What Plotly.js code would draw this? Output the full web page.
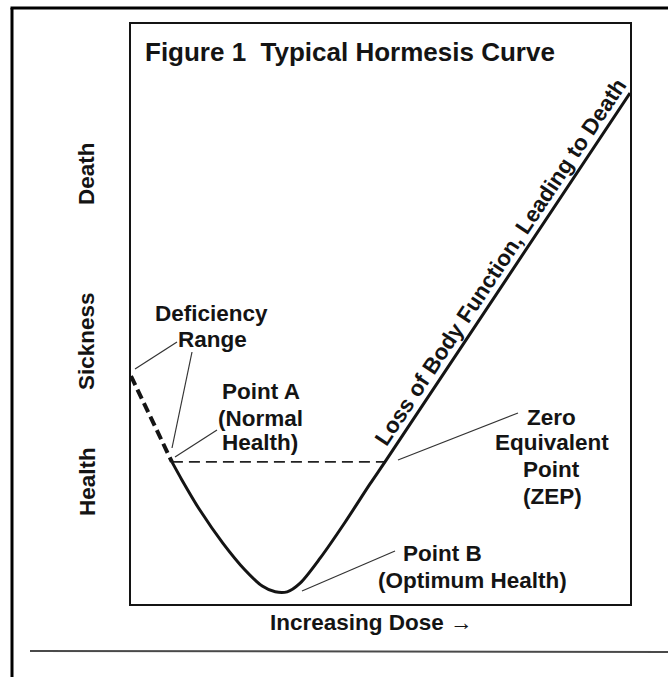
<!DOCTYPE html>
<html>
<head>
<meta charset="utf-8">
<script src="https://cdn.plot.ly/plotly-3.0.1.min.js"></script>
<style>html,body{margin:0;padding:0;background:#fff;}#chart{width:668px;height:677px;}</style>
</head>
<body>
<div id="chart"></div>
<script>
// ---- data (conceptual dose-response values, 0-100 scales) ----
const deficiencyDose = [0, 8.2];
const deficiencyResponse = [39.3, 24.5];
const curveDose = [8.2, 10.2, 13.8, 18.4, 22.8, 26.3, 28.9, 31.3, 33.9, 37.9, 42.9, 47.9, 50.9, 100];
const curveResponse = [24.5, 21.4, 16.2, 10.5, 5.9, 3.1, 2.1, 2.1, 3.6, 7.9, 14.1, 20.7, 24.5, 88.1];
const zepDose = [8.2, 50.9];
const zepResponse = [24.5, 24.5];
const stateLabels = ['Death', 'Sickness', 'Health'];
const titleText = 'Figure 1  Typical Hormesis Curve';
const xTitleText = 'Increasing Dose \u2192';
const curveLabel = 'Loss of Body Function, Leading to Death';

// ---- geometry helpers (pixel -> paper / data) ----
const L = 131, R = 630, T = 24, B = 604, W = 668, H = 677;
const px = v => (v - L) / (R - L);            // paper x
const py = v => (B - v) / (B - T);            // paper y
const dx = v => (v - L) / (R - L) * 100;      // data x
const dy = v => (B - v) / (B - T) * 100;      // data y

const FONT = 'Liberation Sans, Arial, Helvetica, sans-serif';
const ink = '#141414';

const traces = [
  {x: deficiencyDose, y: deficiencyResponse, mode: 'lines', type: 'scatter',
   line: {color: ink, width: 4, dash: '10px,5px'}, hoverinfo: 'skip'},
  {x: zepDose, y: zepResponse, mode: 'lines', type: 'scatter',
   line: {color: '#222', width: 1.6, dash: '11px,6px'}, hoverinfo: 'skip'},
  {x: curveDose, y: curveResponse, mode: 'lines', type: 'scatter',
   line: {color: ink, width: 3, shape: 'spline', smoothing: 0.8}, hoverinfo: 'skip'}
];

function lbl(text, xpx, ypx, size, opts) {
  return Object.assign({
    text: text, xref: 'paper', yref: 'paper', x: px(xpx), y: py(ypx),
    xanchor: 'center', yanchor: 'middle', showarrow: false,
    font: {family: FONT, size: size, weight: 'bold', color: ink}
  }, opts || {});
}

const annotations = [
  lbl(titleText, 143, 52, 26, {xanchor: 'left'}),
  lbl(stateLabels[0], 87, 174, 22.5, {textangle: -90}),
  lbl(stateLabels[1], 87, 341, 22.5, {textangle: -90}),
  lbl(stateLabels[2], 87, 482, 22.5, {textangle: -90}),
  lbl(xTitleText, 371, 623, 22.5),
  lbl('Deficiency', 211, 313, 22.5),
  lbl('Range', 212, 339, 22.5),
  lbl('Point A', 261, 392, 22.5),
  lbl('(Normal', 260, 418, 22.5),
  lbl('Health)', 260, 443, 22.5),
  lbl('Zero', 551, 417, 22.5),
  lbl('Equivalent', 552, 443, 22.5),
  lbl('Point', 551, 469, 22.5),
  lbl('(ZEP)', 552, 496, 22.5),
  lbl('Point B', 442, 553, 22.5),
  lbl('(Optimum Health)', 472, 580, 22.5),
  lbl(curveLabel, 500, 262, 22.3, {textangle: -56.4})
];

function seg(x0, y0, x1, y1) {
  return {type: 'line', xref: 'x', yref: 'y', x0: dx(x0), y0: dy(y0), x1: dx(x1), y1: dy(y1),
          line: {color: '#333', width: 1.2}};
}
function pline(x0, y0, x1, y1, w, c) {
  return {type: 'line', xref: 'paper', yref: 'paper', x0: px(x0), y0: py(y0), x1: px(x1), y1: py(y1),
          line: {color: c, width: w}};
}

const shapes = [
  seg(135, 369, 177, 342),
  seg(192, 352, 172, 448),
  seg(175, 457, 217, 430),
  seg(398, 460, 518, 413),
  seg(302, 591, 395, 551),
  pline(12, 8, 12, 680, 3, '#000'),
  pline(10.5, 8, 672, 8, 3, '#000'),
  pline(30, 651, 672, 652, 2, '#4a4a4a')
];

const layout = {
  width: W, height: H,
  margin: {l: L, r: W - R, t: T, b: H - B, pad: 0},
  paper_bgcolor: '#fff', plot_bgcolor: '#fff',
  showlegend: false,
  xaxis: {range: [0, 100], showline: true, mirror: true, linecolor: ink, linewidth: 2,
          showticklabels: false, ticks: '', showgrid: false, zeroline: false, fixedrange: true},
  yaxis: {range: [0, 100], showline: true, mirror: true, linecolor: ink, linewidth: 2,
          showticklabels: false, ticks: '', showgrid: false, zeroline: false, fixedrange: true},
  annotations: annotations,
  shapes: shapes
};

Plotly.newPlot('chart', traces, layout, {displayModeBar: false, staticPlot: true});
</script>
</body>
</html>
